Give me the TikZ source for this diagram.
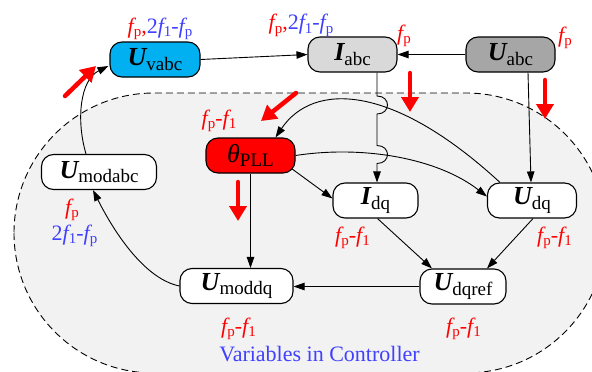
\documentclass[tikz,border=0pt]{standalone}
\usepackage{fontspec}
\setmainfont{LiberationSerif}[Extension=.ttf, UprightFont=*-Regular,
  BoldFont=*-Bold, ItalicFont=*-Italic, BoldItalicFont=*-BoldItalic]
\usetikzlibrary{arrows.meta}

\definecolor{labred}{RGB}{255,0,0}
\definecolor{labblue}{RGB}{64,64,255}
\definecolor{vabcfill}{RGB}{0,176,240}
\definecolor{iabcfill}{RGB}{217,217,217}
\definecolor{uabcfill}{RGB}{166,166,166}
\definecolor{ctrlfill}{RGB}{242,242,242}

% variable names: bold italic symbol with an upright subscript
\newcommand{\vname}[2]{{\fontsize{26}{26}\selectfont\bfseries\itshape #1}\raisebox{-4.5pt}{\fontsize{19}{19}\selectfont #2}}
\newcommand{\thname}{{\fontsize{26}{26}\selectfont\itshape θ}\raisebox{-4.5pt}{\fontsize{19}{19}\selectfont PLL}}
% frequency symbol f with a subscript
\newcommand{\fq}[1]{{\itshape f}\raisebox{-3pt}{\fontsize{15}{15}\selectfont #1}}

\begin{document}
\begin{tikzpicture}[x=1pt,y=-1pt,
  var/.style={draw=black, line width=1.1pt, rounded corners=12pt,
    minimum height=35pt, inner sep=0pt, align=center},
  conn/.style={line width=0.9pt, -{Triangle[length=11pt,width=7.5pt]}},
  hint/.style={draw=labred, line width=4.5pt, line cap=round,
    -{Triangle[length=15pt,width=17pt]}},
  lab/.style={inner sep=0pt, anchor=base, font=\fontsize{22}{22}\selectfont},
  region/.style={draw=black, fill=ctrlfill, line width=0.9pt,
    dash pattern=on 7pt off 4pt, rounded corners=140pt}]

\fill[white] (0,0) rectangle (592,372);
\useasboundingbox (0,0) rectangle (592,372);
\clip (0,0) rectangle (592,372);

% controller area
\draw[region] (14,93) rectangle (606,373);

% variables
\node[var, fill=vabcfill, minimum width=90pt] (Uvabc) at (155,59.5) {\vname{U}{vabc}};
\node[var, fill=iabcfill, minimum width=89pt] (Iabc) at (352.5,54.5) {\vname{I}{abc}};
\node[var, fill=uabcfill, minimum width=89pt] (Uabc) at (510.5,54.5) {\vname{U}{abc}};
\node[var, fill=labred, minimum width=89pt] (PLL) at (250.5,155.5) {\thname};
\node[var, fill=white, minimum width=115pt] (Umodabc) at (99,172) {\vname{U}{modabc}};
\node[var, fill=white, minimum width=85pt] (Idq) at (375.5,200.5) {\vname{I}{dq}};
\node[var, fill=white, minimum width=89pt] (Udq) at (532,200.5) {\vname{U}{dq}};
\node[var, fill=white, minimum width=86pt] (Udqref) at (463,286.5) {\vname{U}{dqref}};
\node[var, fill=white, minimum width=113pt] (Umoddq) at (236.5,286) {\vname{U}{moddq}};

% connectors
\draw[conn] (Uvabc.east) -- (Iabc.west);
\draw[conn] (Uabc.west) -- (Iabc.east);
\draw[conn] ([xshift=17.5pt]Uabc.south) -- ([xshift=-1pt]Udq.north);
\draw[conn] ([xshift=24.5pt]Iabc.south) -- (377,96)
  .. controls (391,96) and (391,114) .. (377,114) -- (377,145.5)
  .. controls (391,145.5) and (391,163.5) .. (377,163.5)
  -- ([xshift=1.5pt]Idq.north);
\draw[conn] ([xshift=-32pt]Udq.north) .. controls (392,83) and (313,82) .. ([xshift=25pt]PLL.north);
\draw[conn] (PLL.east) .. controls (364,145) and (438,158.5) .. ([yshift=4pt]Udq.west);
\draw[conn] ([xshift=-4pt,yshift=5pt]PLL.south east) -- ([yshift=2pt]Idq.west);
\draw[conn] (PLL.south) -- (PLL.south |- Umoddq.north);
\draw[conn] ([xshift=2pt]Idq.south) -- ([xshift=-31pt]Udqref.north);
\draw[conn] ([xshift=1pt]Udq.south) -- ([xshift=24pt]Udqref.north);
\draw[conn] (Udqref.west) -- (Umoddq.east |- Udqref.west);
\draw[conn] (Umoddq.west) .. controls (140,278) and (108,220) .. ([xshift=-6pt]Umodabc.south);
\draw[conn] ([xshift=-13pt]Umodabc.north) .. controls (76,120) and (80,80) .. ([xshift=-1pt,yshift=-6.5pt]Uvabc.west);

% frequency labels
\node[lab] (lUvabc) at (160,33) {{\color{labred}\fq{p},}{\color{labblue}2\fq{1}-\fq{p}}};
\node[lab] (lIabc) at (301,30) {{\color{labred}\fq{p},}{\color{labblue}2\fq{1}-\fq{p}}};
\node[lab, anchor=base west, text=labred] (lIabcR) at (397,40) {\fq{p}};
\node[lab, anchor=base west, text=labred] (lUabc) at (558,42) {\fq{p}};
\node[lab, text=labred] (lPLL) at (219,125) {\fq{p}-\fq{1}};
\node[lab, text=labred] (lIdq) at (352.5,242) {\fq{p}-\fq{1}};
\node[lab, text=labred] (lUdq) at (554.5,242) {\fq{p}-\fq{1}};
\node[lab, text=labred] (lUdqref) at (463.5,333) {\fq{p}-\fq{1}};
\node[lab, text=labred] (lUmoddq) at (238.5,333) {\fq{p}-\fq{1}};
\node[lab, text=labred] (lUmodabcA) at (72,214) {\fq{p}};
\node[lab, text=labblue] (lUmodabcB) at (74.5,240) {2\fq{1}-\fq{p}};
\node[lab, text=labblue] (title) at (319.5,361) {Variables in Controller};

% signal-flow hints
\draw[hint] (65,96) -- (96,66);
\draw[hint] (296,93) -- (261,121);
\draw[hint] (410,73) -- (410,112);
\draw[hint] (545,80) -- (545,119);
\draw[hint] (238,182) -- (238,221);
\end{tikzpicture}
\end{document}
